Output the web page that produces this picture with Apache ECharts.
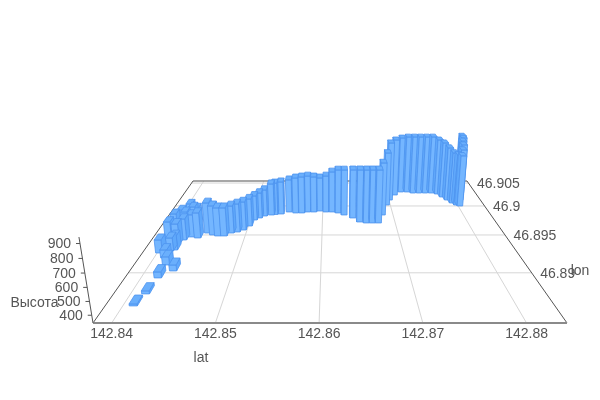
<!DOCTYPE html>
<html><head><meta charset="utf-8">
<script src="https://cdn.jsdelivr.net/npm/echarts@6/dist/echarts.min.js"></script>
<style>html,body{margin:0;padding:0;background:#fff}#c{width:600px;height:400px}</style>
</head><body><div id="c"></div>
<script>
const latTicks = [142.84, 142.85, 142.86, 142.87, 142.88];
const lonTicks = [46.89, 46.895, 46.9, 46.905];
const heightTicks = [400, 500, 600, 700, 800, 900];
const latExtent = [142.8382, 142.8839];
const lonExtent = [46.8851, 46.9055];
const heightExtent = [343, 943];
const axisNames = ['lat', 'lon', 'Высота'];

const lats = [142.84107,142.84159,142.84188,142.84315,142.84194,142.84122,142.84023,142.84144,142.84187,142.84018,142.84176,142.84229,142.84311,142.84396,142.84014,142.84084,142.84184,142.84179,142.84283,142.84272,
142.84495,142.84574,142.84645,142.84725,142.84801,142.84876,142.84947,142.8501,142.85052,142.85114,142.85177,142.85273,142.8532,142.85406,
142.85517,142.85613,142.857,142.85785,142.85872,142.85959,142.86047,142.86134,142.86221,142.86306,142.86424,
142.86514,142.86603,142.86686,142.86769,142.86849,142.86945,142.87011,142.87111,142.87222,142.87318,142.87407,142.87502,142.87597,142.87692,142.87779,142.87833,142.87885,142.87936,142.87984,142.88025,
142.88085,142.8814,142.88181,142.8823,142.88265];
const lons = [46.88702,46.88817,46.88985,46.89064,46.89135,46.89222,46.89287,46.89314,46.89327,46.89498,46.89396,46.89468,46.89513,46.89498,46.89653,46.89701,46.89752,46.8962,46.89718,46.89653,
46.89573,46.89543,46.89528,46.89528,46.89573,46.89589,46.8962,46.89685,46.89786,46.89821,46.89856,46.89874,46.89883,46.89892,
46.89929,46.89911,46.89911,46.89929,46.89929,46.89947,46.89929,46.89929,46.89911,46.89874,46.89821,
46.89752,46.89735,46.89735,46.89735,46.89874,46.90062,46.90163,46.90269,46.90335,46.90335,46.90312,46.90312,46.90312,46.90312,46.90291,46.90226,46.90163,46.90102,46.90062,46.90043,
46.90163,46.90269,46.9038,46.90473,46.90569];
const heights = [358,367,392,393,412,413,458,458,468,491,532,535,547,573,477,488,519,514,498,543,
623,612,602,602,595,605,607,601,578,589,601,651,655,662,
665,692,702,703,694,676,703,743,770,786,810,
840,847,847,847,853,873,934,926,923,933,941,941,941,941,918,911,884,857,853,852,
864,875,875,874,862];
const barSizeLat = 0.00082;
const barSizeLon = 0.00085;

const linearMap = echarts.number.linearMap;
function project(lat, lon, val) {
  const u = linearMap(lat, latExtent, [0, 1]);
  const v = linearMap(lon, lonExtent, [0, 1]);
  const h = linearMap(val, heightExtent, [0, 1]);
  const w = 1 + 0.73 * v - 0.056 * h;
  return [330 + (u - 0.5) * 474 / w, -13.5 + (336.5 - 100 * h) / w];
}
const order = lats.map((_, i) => i).sort((a, b) => lons[b] - lons[a]);
const barData = order.map(i => [lats[i], lons[i], heights[i]]);

const EDGE = '#4d93ef';
function poly(points, fill) {
  return { type: 'polygon', shape: { points }, style: { fill, stroke: EDGE, lineWidth: 0.8, lineJoin: 'round' } };
}
function renderBar(params, api) {
  const lat = api.value(0), lon = api.value(1), val = api.value(2);
  const hx = barSizeLat / 2, hy = barSizeLon / 2, b = heightExtent[0];
  const P = (dx, dy, z) => project(lat + dx * hx, lon + dy * hy, z);
  const children = [];
  const onRight = project(lat, lon, b)[0] > 330;
  const s = onRight ? -1 : 1;
  children.push(poly([P(s, -1, b), P(s, 1, b), P(s, 1, val), P(s, -1, val)], '#5fa8fb'));
  children.push(poly([P(-1, -1, b), P(1, -1, b), P(1, -1, val), P(-1, -1, val)], '#74b6ff'));
  children.push(poly([P(-1, -1, val), P(1, -1, val), P(1, 1, val), P(-1, 1, val)], '#6aaffc'));
  return { type: 'group', children };
}
function line(a, b, stroke, lineWidth) {
  return { type: 'line', shape: { x1: a[0], y1: a[1], x2: b[0], y2: b[1] }, style: { stroke, lineWidth } };
}
function label(text, x, y, align) {
  return { type: 'text', x, y, style: { text, fill: '#555', font: '14px "Liberation Sans", Arial, sans-serif', align, verticalAlign: 'middle' } };
}
function renderFrame() {
  const [lat0, lat1] = latExtent, [lon0, lon1] = lonExtent, [h0, h1] = heightExtent;
  const c = [];
  latTicks.forEach(t => c.push(line(project(t, lon0, h0), project(t, lon1, h0), '#d6d6d6', 1)));
  lonTicks.forEach(t => c.push(line(project(lat0, t, h0), project(lat1, t, h0), '#d6d6d6', 1)));
  c.push(line(project(lat0, lon1, h0), project(lat1, lon1, h0), '#8a8a8a', 1.6));
  c.push(line(project(lat0, lon0, h0), project(lat0, lon1, h0), '#555', 1));
  c.push(line(project(lat1, lon0, h0), project(lat1, lon1, h0), '#555', 1));
  c.push(line(project(lat0, lon0, h0), project(lat1, lon0, h0), '#8a8a8a', 2));
  c.push(line(project(lat0, lon0, h0), project(lat0, lon0, h1), '#555', 1));
  heightTicks.forEach(t => {
    const p = project(lat0, lon0, t);
    c.push(line(p, [p[0] - 4, p[1]], '#555', 1));
    c.push(label(String(t), p[0] - 9, p[1] + 1, 'right'));
  });
  latTicks.forEach(t => {
    const p = project(t, lon0, h0);
    c.push(label(String(t), p[0], 334.5, 'center'));
  });
  lonTicks.forEach(t => {
    const p = project(lat1, t, h0);
    c.push(label(String(t), p[0] + 8.5, p[1] + 1, 'left'));
  });
  c.push(label(axisNames[0], 201, 358, 'center'));
  c.push(label(axisNames[1], 580, 271, 'center'));
  c.push(label(axisNames[2], 34.5, 303, 'center'));
  return { type: 'group', children: c };
}
const chart = echarts.init(document.getElementById('c'), null, { renderer: 'canvas' });
chart.setOption({
  animation: false,
  backgroundColor: '#fff',
  series: [
    { type: 'custom', coordinateSystem: 'none', silent: true, data: [[0]], renderItem: renderFrame, z: 1 },
    { type: 'custom', coordinateSystem: 'none', silent: true, data: barData, renderItem: renderBar, z: 2 }
  ]
});
</script></body></html>
